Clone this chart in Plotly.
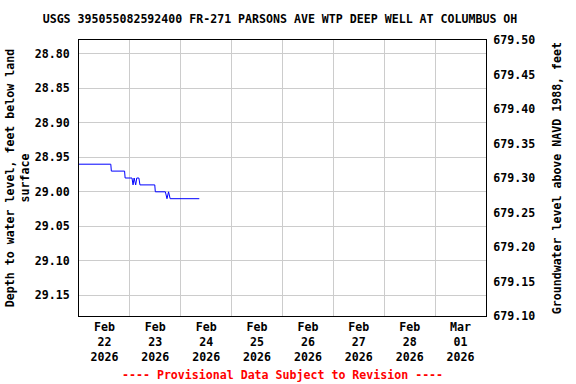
import plotly.graph_objects as go

# Depth to water level, feet below land surface
times = [
    "2026-02-22 00:00", "2026-02-22 15:00", "2026-02-22 15:15", "2026-02-22 21:30",
    "2026-02-22 21:45", "2026-02-23 01:00", "2026-02-23 01:30", "2026-02-23 02:00",
    "2026-02-23 02:45", "2026-02-23 03:15", "2026-02-23 04:15", "2026-02-23 04:45",
    "2026-02-23 11:45", "2026-02-23 12:00", "2026-02-23 16:45", "2026-02-23 17:30",
    "2026-02-23 18:15", "2026-02-23 19:00", "2026-02-24 08:45",
]
depth = [
    28.96, 28.96, 28.97, 28.97,
    28.98, 28.98, 28.99, 28.98,
    28.99, 28.98, 28.98, 28.99,
    28.99, 29.00, 29.00, 29.01,
    29.00, 29.01, 29.01,
]
DATUM = 708.28  # land surface elevation, ft above NAVD 1988
elev = [round(DATUM - d, 2) for d in depth]

left_ticks = [28.80, 28.85, 28.90, 28.95, 29.00, 29.05, 29.10, 29.15]
right_ticks = [679.10, 679.15, 679.20, 679.25, 679.30, 679.35, 679.40, 679.45, 679.50]

FONT = "DejaVu Sans Mono"
fnt = dict(family=FONT, size=11.6, color="black", weight="bold")

fig = go.Figure()
fig.add_trace(go.Scatter(x=times, y=depth, mode="lines",
                         line=dict(color="#0000FF", width=1), yaxis="y",
                         hoverinfo="skip", showlegend=False))
fig.add_trace(go.Scatter(x=times, y=elev, mode="lines",
                         line=dict(color="rgba(0,0,0,0)", width=0), yaxis="y2",
                         hoverinfo="skip", showlegend=False))

fig.update_layout(
    width=576, height=384,
    margin=dict(l=79, r=90, t=40, b=68),
    paper_bgcolor="white", plot_bgcolor="white",
    font=fnt,
    title=dict(text="USGS 395055082592400 FR-271 PARSONS AVE WTP DEEP WELL AT COLUMBUS OH",
               x=280 / 576, xanchor="center", y=1 - 19 / 384, yanchor="middle",
               font=fnt),
    xaxis=dict(
        type="date", automargin=False,
        range=["2026-02-22 00:00", "2026-03-02 00:00"],
        tickmode="linear", tick0="2026-02-22", dtick=86400000,
        ticklabelmode="period", tickformat="%b<br>%d<br>%Y",
        showgrid=True, gridcolor="#cccccc", gridwidth=1,
        showline=True, linecolor="black", linewidth=1, mirror=True,
        ticks="", tickfont=fnt, zeroline=False,
    ),
    yaxis=dict(
        automargin=False,
        range=[DATUM - 679.10, DATUM - 679.50],
        tickmode="array", tickvals=left_ticks,
        ticktext=[f"{v:.2f}" for v in left_ticks],
        showgrid=True, gridcolor="#cccccc", gridwidth=1,
        showline=True, linecolor="black", linewidth=1, mirror=True,
        ticks="outside", ticklen=6, tickcolor="rgba(0,0,0,0)",
        tickfont=fnt, zeroline=False,
    ),
    yaxis2=dict(
        automargin=False,
        overlaying="y", side="right",
        range=[679.10, 679.50],
        tickmode="array", tickvals=right_ticks,
        ticktext=[f"{v:.2f}" for v in right_ticks],
        showgrid=False, showline=False,
        ticks="outside", ticklen=4, tickcolor="rgba(0,0,0,0)",
        tickfont=fnt, zeroline=False,
    ),
    annotations=[
        dict(text="Depth to water level, feet below land<br>surface",
             xref="paper", yref="paper", x=-0.152, y=0.5,
             xanchor="center", yanchor="middle", textangle=-90,
             showarrow=False, font=fnt),
        dict(text="Groundwater level above NAVD 1988, feet",
             xref="paper", yref="paper", x=1.175, y=0.5,
             xanchor="center", yanchor="middle", textangle=-90,
             showarrow=False, font=fnt),
        dict(text="---- Provisional Data Subject to Revision ----",
             xref="paper", yref="paper", x=0.5, y=-0.214,
             xanchor="center", yanchor="middle",
             showarrow=False, font=dict(family=FONT, size=11.6, color="#FF0000", weight="bold")),
    ],
)

fig.write_html("out.html",
               config={"displayModeBar": False, "staticPlot": True},
               post_script="document.body.style.margin='0px';document.body.style.overflow='hidden';")
